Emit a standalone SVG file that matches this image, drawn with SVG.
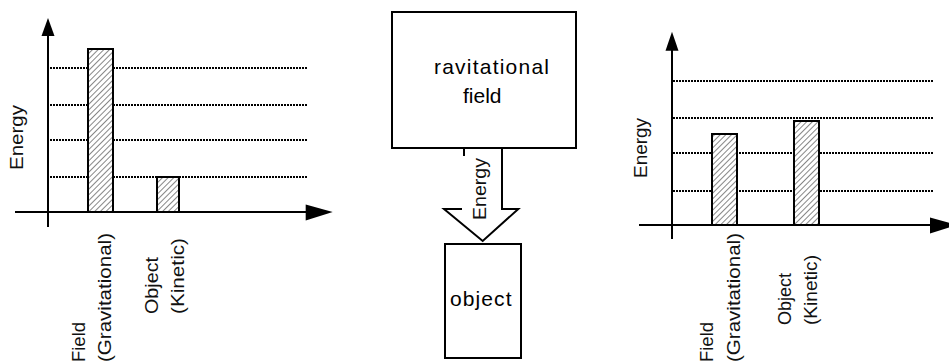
<svg xmlns="http://www.w3.org/2000/svg" width="949" height="364" viewBox="0 0 949 364">
<defs>
<pattern id="hatch" patternUnits="userSpaceOnUse" width="4" height="4" patternTransform="rotate(45)">
<rect width="4" height="4" fill="#fff"/>
<line x1="0" y1="0" x2="0" y2="4" stroke="#222" stroke-width="1.1"/>
</pattern>
</defs>
<style>
.ax{stroke:#000;stroke-width:2;fill:none}
.head{fill:#000;stroke:none}
.dot{stroke:#000;stroke-width:2;stroke-dasharray:2 1;fill:none}
.bar{fill:url(#hatch);stroke:#000;stroke-width:2}
.box{fill:#fff;stroke:#000;stroke-width:2}
.t{font-family:"Liberation Sans",Arial,sans-serif;font-size:21px;fill:#000}
.r{font-family:"Liberation Sans",Arial,sans-serif;font-size:19px;fill:#111}
</style>
<rect width="949" height="364" fill="#fff"/>

<g id="chart-left">
<line class="dot" x1="50" y1="68" x2="308" y2="68"/>
<line class="dot" x1="50" y1="105" x2="308" y2="105"/>
<line class="dot" x1="50" y1="140" x2="308" y2="140"/>
<line class="dot" x1="50" y1="177" x2="308" y2="177"/>
<line class="ax" x1="48" y1="227" x2="48" y2="34"/>
<polygon class="head" points="48,18 41.5,36 54.5,36"/>
<line class="ax" x1="15" y1="212" x2="308" y2="212"/>
<polygon class="head" points="332.7,212 305.7,204.5 305.7,220.5"/>
<rect class="bar" x="88" y="49" width="25" height="163"/>
<rect class="bar" x="157" y="177" width="22" height="35"/>
<text class="r" transform="translate(23,170) rotate(-90)" textLength="65" lengthAdjust="spacingAndGlyphs">Energy</text>
<text class="r" transform="translate(85,362) rotate(-90)" textLength="40" lengthAdjust="spacingAndGlyphs">Field</text>
<text class="r" transform="translate(111,362) rotate(-90)" textLength="129" lengthAdjust="spacingAndGlyphs">(Gravitational)</text>
<text class="r" transform="translate(158,314) rotate(-90)" textLength="57" lengthAdjust="spacingAndGlyphs">Object</text>
<text class="r" transform="translate(184,314) rotate(-90)" textLength="76" lengthAdjust="spacingAndGlyphs">(Kinetic)</text>
</g>

<g id="box-field">
<rect class="box" x="392" y="12" width="184" height="136"/>
<text class="t" x="434" y="74" textLength="115" lengthAdjust="spacing">ravitational</text>
<text class="t" x="463" y="103" textLength="38.5" lengthAdjust="spacing">field</text>
</g>

<g id="connectors">
<polygon class="box" points="464,148 464,209 444,209 482.7,241 518.3,209 502,209 502,148"/>
<rect x="462" y="156" width="38" height="66" fill="#fff"/>
<text class="r" transform="translate(486,220) rotate(-90)" textLength="62" lengthAdjust="spacingAndGlyphs">Energy</text>
</g>

<g id="box-object">
<rect class="box" x="445" y="244" width="76" height="114"/>
<text class="t" x="450" y="306" textLength="61.5" lengthAdjust="spacing">object</text>
</g>

<g id="chart-right">
<line class="dot" x1="673" y1="81" x2="933" y2="81"/>
<line class="dot" x1="673" y1="118" x2="933" y2="118"/>
<line class="dot" x1="673" y1="153" x2="933" y2="153"/>
<line class="dot" x1="673" y1="191" x2="933" y2="191"/>
<line class="ax" x1="672" y1="239" x2="672" y2="48"/>
<polygon class="head" points="672,31.7 665.5,50.7 678.5,50.7"/>
<line class="ax" x1="639" y1="225" x2="932" y2="225"/>
<polygon class="head" points="957,225 930,217.5 930,233.5"/>
<rect class="bar" x="712" y="134" width="25" height="91"/>
<rect class="bar" x="794" y="121" width="25" height="104"/>
<text class="r" transform="translate(647,178) rotate(-90)" textLength="60" lengthAdjust="spacingAndGlyphs">Energy</text>
<text class="r" transform="translate(713,362) rotate(-90)" textLength="40" lengthAdjust="spacingAndGlyphs">Field</text>
<text class="r" transform="translate(740,362) rotate(-90)" textLength="129" lengthAdjust="spacingAndGlyphs">(Gravitational)</text>
<text class="r" transform="translate(791,325) rotate(-90)" textLength="52" lengthAdjust="spacingAndGlyphs">Object</text>
<text class="r" transform="translate(817,325) rotate(-90)" textLength="70" lengthAdjust="spacingAndGlyphs">(Kinetic)</text>
</g>
</svg>
